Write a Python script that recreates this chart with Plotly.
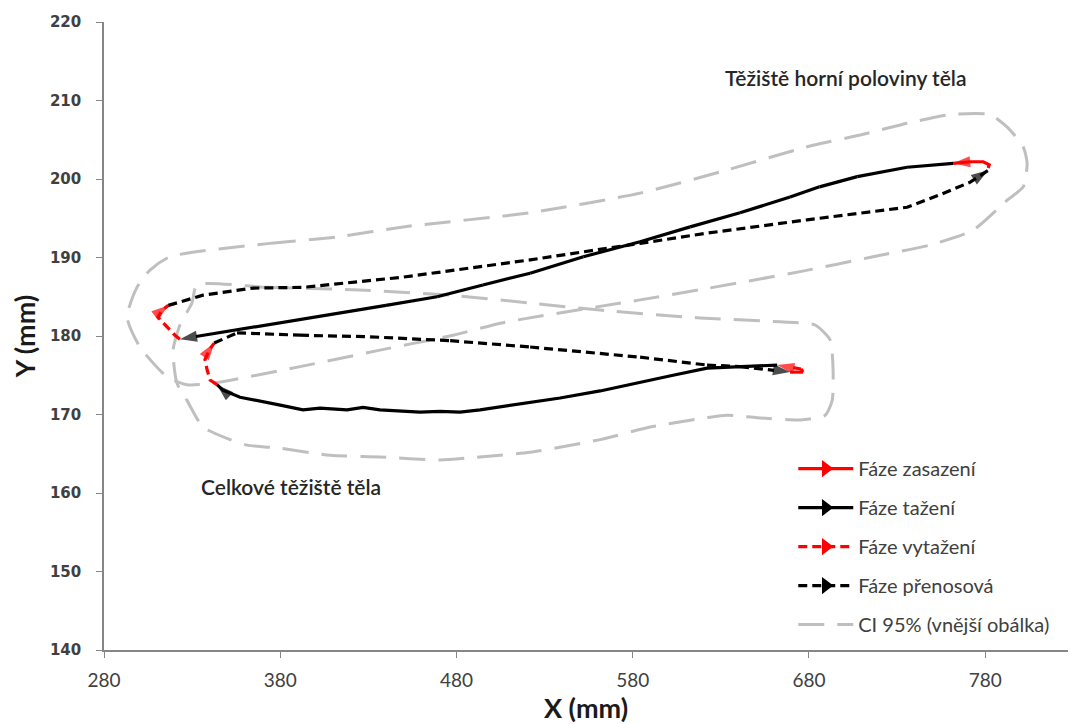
import plotly.graph_objects as go

# ---------------- data (mm) ----------------
# Upper body centre of mass (Těžiště horní poloviny těla)
up_zas_x = [781.7, 782.3, 778.9, 771.5, 761.8]
up_zas_y = [201.4, 201.8, 202.2, 202.2, 202.0]
up_taz_x = [761.8, 735.7, 707.4, 690.0, 686.0, 669.3, 640.9, 612.6, 584.2, 552.0, 521.8, 495.0, 469.0, 440.0, 412.2, 385.0, 355.5, 323.1]
up_taz_y = [202.0, 201.5, 200.3, 199.2, 199.0, 197.7, 195.7, 193.9, 192.0, 190.1, 188.0, 186.5, 185.0, 183.9, 182.9, 181.9, 180.8, 179.6]
up_vyt_x = [323.1, 320.3, 313.5, 310.6, 313.0, 316.5]
up_vyt_y = [179.6, 180.1, 181.7, 182.4, 183.3, 183.9]
up_pre_x = [316.5, 336.2, 364.6, 392.9, 449.7, 521.8, 584.2, 622.2, 679.0, 735.7, 754.5, 771.5, 781.7]
up_pre_y = [183.9, 185.2, 186.1, 186.2, 187.5, 189.7, 191.8, 193.1, 194.8, 196.4, 198.0, 199.6, 201.1]

# Whole body centre of mass (Celkové těžiště těla)
lo_zas_x = [669.3, 676.7, 675.5, 666.5, 662.0]
lo_zas_y = [175.4, 175.4, 175.8, 176.1, 176.3]
lo_taz_x = [662.0, 650.6, 640.9, 622.2, 602.9, 584.2, 561.5, 538.8, 516.1, 493.4, 482.0, 470.7, 459.3, 448.0, 436.6, 427.0, 417.9, 402.6, 392.9, 380.0, 370.2, 357.2, 347.5, 344.1]
lo_taz_y = [176.3, 176.2, 176.1, 175.9, 175.0, 174.1, 173.0, 172.1, 171.3, 170.6, 170.3, 170.4, 170.3, 170.5, 170.6, 170.9, 170.6, 170.8, 170.6, 171.2, 171.6, 172.2, 173.1, 173.8]
lo_vyt_x = [344.1, 340.2, 338.5, 337.3, 340.0, 342.5]
lo_vyt_y = [173.8, 174.4, 175.7, 177.0, 178.3, 179.1]
lo_pre_x = [342.5, 355.5, 391.2, 431.0, 476.4, 521.8, 584.2, 622.2, 640.9, 659.7, 669.3]
lo_pre_y = [179.1, 180.4, 180.1, 179.9, 179.4, 178.6, 177.3, 176.3, 176.1, 175.7, 175.4]

# CI 95 % outer envelopes
env_up_x = [317.5, 374.2, 412.2, 449.7, 521.8, 584.2, 629.6, 679.0, 709.1, 735.7, 760.1, 782.8, 792.5, 801.6, 803.8, 801.6, 792.5, 773.2, 748.8, 716.4, 675.0, 618.2, 584.2, 506.4, 478.1, 436.6, 391.2, 341.9, 327.1, 315.8, 300.4, 293.1, 298.7, 306.1, 317.5]
env_up_y = [190.1, 191.8, 192.6, 193.9, 195.7, 198.2, 200.9, 204.1, 205.6, 207.1, 208.2, 208.2, 206.6, 204.1, 202.0, 199.0, 197.3, 193.5, 191.6, 190.1, 188.2, 185.9, 184.6, 181.7, 180.1, 178.2, 176.1, 174.0, 173.8, 174.8, 178.6, 182.4, 186.2, 188.4, 190.1]
env_lo_x = [332.8, 372.5, 421.3, 476.4, 521.8, 561.5, 618.2, 663.7, 683.5, 692.0, 693.7, 693.2, 689.2, 675.0, 650.6, 633.6, 622.2, 589.9, 561.5, 521.8, 493.4, 470.7, 436.6, 408.3, 379.9, 361.2, 351.5, 336.2, 327.1, 321.4, 319.2, 323.1, 329.9, 332.8]
env_lo_y = [186.5, 186.2, 185.9, 185.2, 184.2, 183.3, 182.3, 181.8, 181.4, 179.5, 175.7, 171.8, 169.9, 169.3, 169.6, 169.9, 169.6, 168.4, 166.8, 165.2, 164.6, 164.2, 164.6, 164.8, 165.7, 166.1, 166.8, 168.4, 171.8, 174.0, 178.2, 181.4, 184.2, 186.5]

legend_names = ["Fáze zasazení", "Fáze tažení", "Fáze vytažení", "Fáze přenosová", "CI 95% (vnější obálka)"]
x_ticks = [280, 380, 480, 580, 680, 780]
y_ticks = [140, 150, 160, 170, 180, 190, 200, 210, 220]

RED = "#FF0000"
BLACK = "#000000"
GRAY = "#BFBFBF"

fig = go.Figure()

def env(x, y):
    fig.add_trace(go.Scatter(x=x, y=y, mode="lines", showlegend=False, hoverinfo="skip",
                             line=dict(color=GRAY, width=3, dash="26px,13px", shape="spline", smoothing=0.6)))

env(env_up_x, env_up_y)
env(env_lo_x, env_lo_y)

def seg(x, y, color, dash, width=3.2, head=18):
    sizes = [0] * (len(x) - 1) + [head]
    fig.add_trace(go.Scatter(
        x=x, y=y, mode="lines+markers", showlegend=False, hoverinfo="skip",
        line=dict(color=color, width=width, dash=dash),
        marker=dict(symbol="arrow", angleref="previous", size=sizes, color=color, line=dict(width=0))))

for xs, ys, c, d in [
    (up_zas_x, up_zas_y, RED, "solid"),
    (up_taz_x, up_taz_y, BLACK, "solid"),
    (up_vyt_x, up_vyt_y, RED, "9px,5px"),
    (up_pre_x, up_pre_y, BLACK, "9px,5px"),
    (lo_zas_x, lo_zas_y, RED, "solid"),
    (lo_taz_x, lo_taz_y, BLACK, "solid"),
    (lo_vyt_x, lo_vyt_y, RED, "9px,5px"),
    (lo_pre_x, lo_pre_y, BLACK, "9px,5px"),
]:
    seg(xs, ys, c, d)

# legend-only entries
leg_styles = [(RED, "solid"), (BLACK, "solid"), (RED, "9px,5px"), (BLACK, "9px,5px")]
for i, (c, d) in enumerate(leg_styles):
    fig.add_trace(go.Scatter(x=[None], y=[None], mode="lines+markers", name=legend_names[i],
                             legendgroup=str(i),
                             line=dict(color=c, width=3.2, dash=d),
                             marker=dict(symbol="triangle-right", size=15, color=c)))
fig.add_trace(go.Scatter(x=[None], y=[None], mode="lines", name=legend_names[4], legendgroup="4",
                         line=dict(color=GRAY, width=3, dash="26px,13px")))

fig.add_annotation(x=701, y=212.9, text="Těžiště horní poloviny těla", showarrow=False,
                   font=dict(family="Lato", size=21, color="#262626", weight=600))
fig.add_annotation(x=386, y=160.8, text="Celkové těžiště těla", showarrow=False,
                   font=dict(family="Lato", size=21, color="#262626", weight=600))

fig.update_layout(
    width=1070, height=724,
    margin=dict(l=104, r=2, t=22, b=74),
    plot_bgcolor="white", paper_bgcolor="white",
    font=dict(family="Lato", color="#404040"),
    legend=dict(x=0.715, y=0.32, xanchor="left", yanchor="top", bgcolor="rgba(0,0,0,0)",
                font=dict(family="Lato", size=20, color="#404040"),
                traceorder="grouped", tracegroupgap=10, itemwidth=55),
    xaxis=dict(range=[280, 827], tickvals=x_ticks, ticks="outside", ticklen=6, tickcolor="#868686",
               showline=True, linecolor="#868686", linewidth=1.5, showgrid=False, zeroline=False,
               ticklabelstandoff=6,
               tickfont=dict(family="Lato", size=19, color="#404040"),
               title=dict(text="<b>X (mm)</b>", font=dict(family="Lato", size=27, color="#1a1a1a"), standoff=2)),
    yaxis=dict(range=[140, 220], tickvals=y_ticks, ticks="outside", ticklen=6, tickcolor="#868686",
               showline=True, linecolor="#868686", linewidth=1.5, showgrid=False, zeroline=False,
               ticklabelstandoff=12,
               tickfont=dict(family="DejaVu Sans", size=15, color="#404040", weight="bold"),
               title=dict(text="<b>Y (mm)</b>", font=dict(family="Lato", size=27, color="#1a1a1a"), standoff=6)),
)

fig.write_html("out.html")
